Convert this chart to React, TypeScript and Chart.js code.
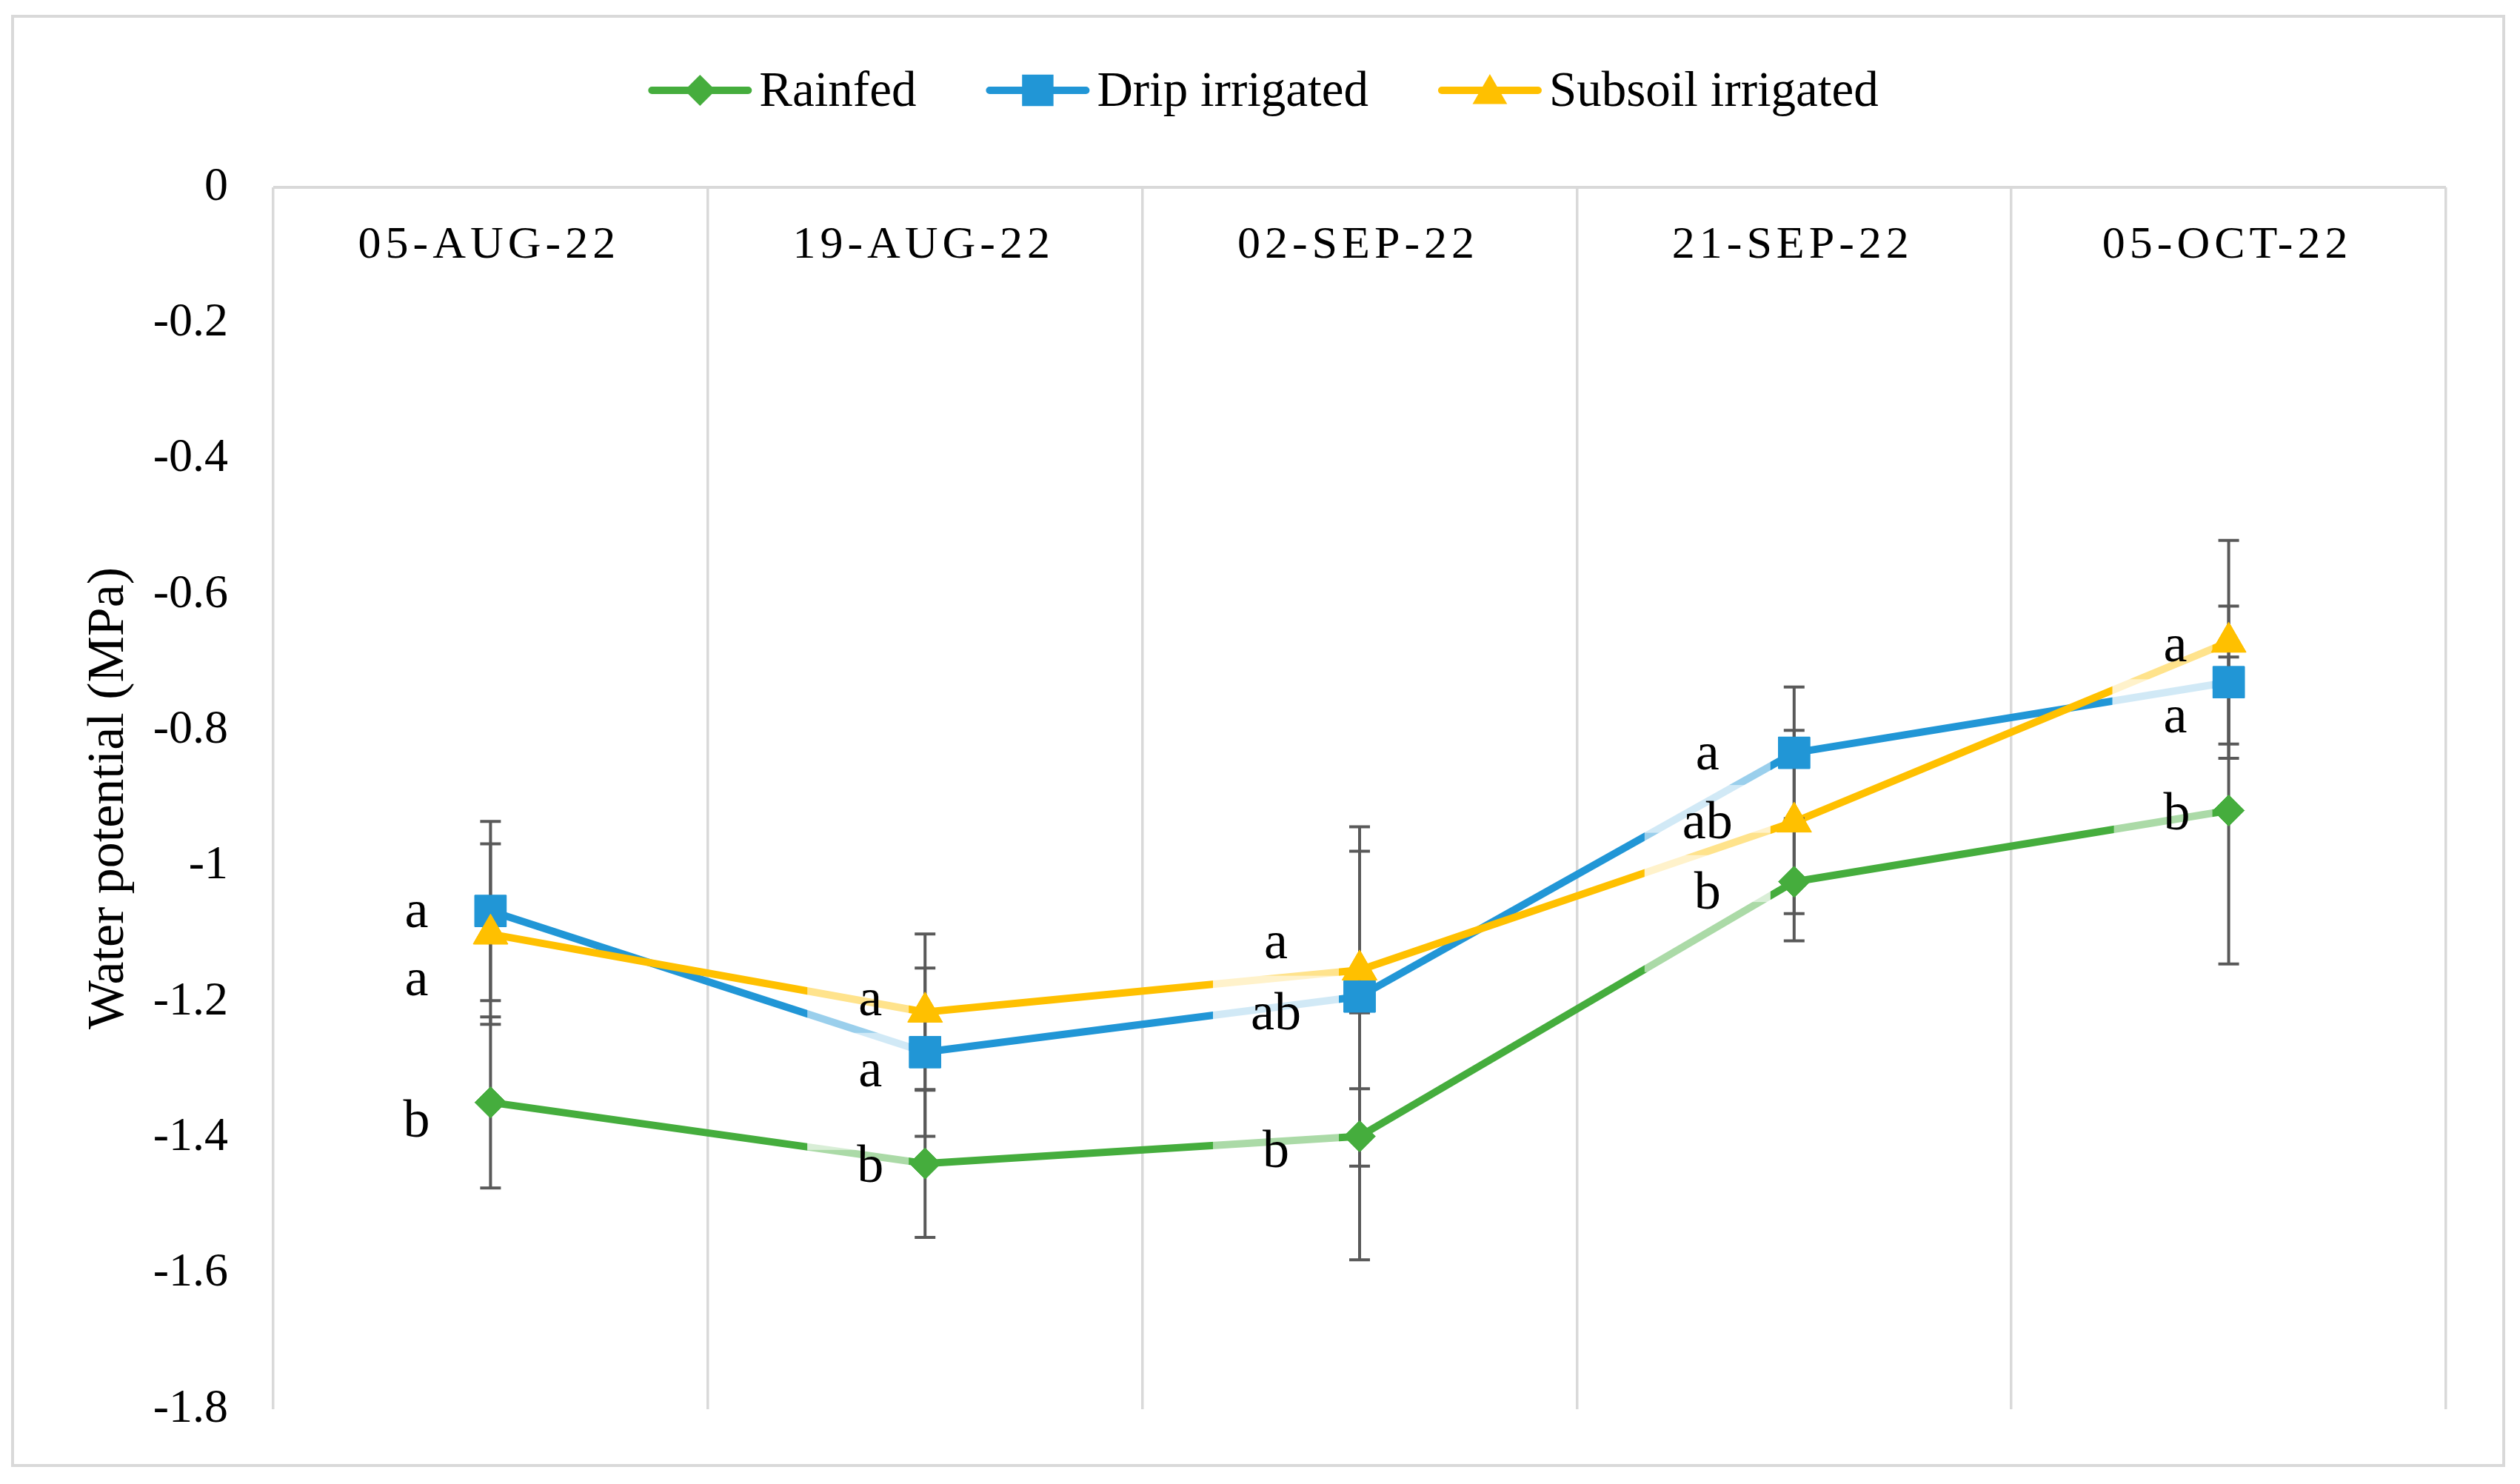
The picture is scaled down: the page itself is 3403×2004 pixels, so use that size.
import React, { useEffect, useRef } from 'react';
import { Chart, registerables } from 'chart.js';

Chart.register(...registerables);

// ---------- data ----------
const CATEGORIES = ['05-AUG-22', '19-AUG-22', '02-SEP-22', '21-SEP-22', '05-OCT-22'];
const SERIES_NAMES = ['Rainfed', 'Drip irrigated', 'Subsoil irrigated'];
const RAINFED = [-1.348, -1.438, -1.398, -1.023, -0.918];
const DRIP = [-1.066, -1.274, -1.192, -0.833, -0.729];
const SUBSOIL = [-1.1, -1.215, -1.153, -0.935, -0.67];
const RAINFED_ERR = [0.126, 0.109, 0.182, 0.087, 0.226];
const DRIP_ERR = [0.132, 0.124, 0.25, 0.097, 0.112];
const SUBSOIL_ERR = [0.133, 0.115, 0.175, 0.135, 0.15];
const RAINFED_LETTERS = ['b', 'b', 'b', 'b', 'b'];
const DRIP_LETTERS = ['a', 'a', 'ab', 'a', 'a'];
const SUBSOIL_LETTERS = ['a', 'a', 'a', 'ab', 'a'];
const Y_MIN = -1.8;
const Y_MAX = 0;
const Y_STEP = 0.2;
const Y_TITLE = 'Water potential (MPa)';

// ---------- styles / layout ----------
const W = 3403;
const H = 2004;
const SERIF = '"Liberation Serif", "Times New Roman", serif';
const GREEN = '#45AD3D';
const BLUE = '#2196D6';
const YELLOW = '#FFC000';
const COLORS = [GREEN, BLUE, YELLOW];
const POINT_STYLES = ['rectRot', 'rect', 'triangle'];
const POINT_RADII = [21, 30, 27];
const GRID = '#d9d9d9';
const ERR_COLOR = '#595959';
// letter label offsets (dx to text centre, dy to baseline) in px relative to the point
const LETTER_OFFSETS = [
  [[-100, 46], [-74, 25], [-113, 41], [-117, 36], [-70, 25]],
  [[-100, 22], [-74, 46], [-113, 44], [-117, 22], [-72, 68]],
  [[-100, 83], [-74, 4], [-113, -16], [-117, 22], [-72, 26]],
];

const VALUES = [RAINFED, DRIP, SUBSOIL];
const ERRORS = [RAINFED_ERR, DRIP_ERR, SUBSOIL_ERR];
const LETTERS = [RAINFED_LETTERS, DRIP_LETTERS, SUBSOIL_LETTERS];

function drawMarker(ctx: CanvasRenderingContext2D, style: string, x: number, y: number, r: number, color: string) {
  ctx.save();
  ctx.fillStyle = color;
  ctx.beginPath();
  if (style === 'rectRot') {
    ctx.moveTo(x, y - r);
    ctx.lineTo(x + r, y);
    ctx.lineTo(x, y + r);
    ctx.lineTo(x - r, y);
    ctx.closePath();
  } else if (style === 'rect') {
    const s = r * Math.SQRT1_2;
    ctx.rect(x - s, y - s, 2 * s, 2 * s);
  } else {
    ctx.moveTo(x, y - r);
    ctx.lineTo(x + r * Math.sin((2 * Math.PI) / 3), y + r / 2);
    ctx.lineTo(x - r * Math.sin((2 * Math.PI) / 3), y + r / 2);
    ctx.closePath();
  }
  ctx.fill();
  ctx.restore();
}

const customPlugin = {
  id: 'customDecor',
  beforeDraw(chart: any) {
    const ctx = chart.ctx as CanvasRenderingContext2D;
    ctx.save();
    ctx.fillStyle = '#ffffff';
    ctx.fillRect(0, 0, chart.width, chart.height);
    ctx.strokeStyle = GRID;
    ctx.lineWidth = 4;
    ctx.strokeRect(17, 22, 3364, 1957);
    ctx.restore();
  },
  afterDatasetsDraw(chart: any) {
    const ctx = chart.ctx as CanvasRenderingContext2D;
    const xs = chart.scales.x;
    const ys = chart.scales.y;
    // error bars
    ctx.save();
    ctx.strokeStyle = ERR_COLOR;
    ctx.lineWidth = 4;
    VALUES.forEach((vals, s) => {
      vals.forEach((v, i) => {
        const x = xs.getPixelForValue(i);
        const y1 = ys.getPixelForValue(v + ERRORS[s][i]);
        const y2 = ys.getPixelForValue(v - ERRORS[s][i]);
        ctx.beginPath();
        ctx.moveTo(x, y1);
        ctx.lineTo(x, y2);
        ctx.moveTo(x - 14, y1);
        ctx.lineTo(x + 14, y1);
        ctx.moveTo(x - 14, y2);
        ctx.lineTo(x + 14, y2);
        ctx.stroke();
      });
    });
    ctx.restore();
    // semi-transparent label boxes
    ctx.save();
    ctx.fillStyle = 'rgba(255,255,255,0.55)';
    VALUES.forEach((vals, s) => {
      vals.forEach((v, i) => {
        const px = xs.getPixelForValue(i);
        const py = ys.getPixelForValue(v);
        const [dx, dy] = LETTER_OFFSETS[s][i];
        const cx = px + dx;
        const base = py + dy;
        const left = cx - 85;
        const right = Math.min(cx + 85, px - 22);
        ctx.fillRect(left, base - 72, right - left, 158);
      });
    });
    ctx.restore();
    // redraw markers on top
    [0, 1, 2].forEach((d) => {
      const meta = chart.getDatasetMeta(d);
      meta.data.forEach((el: any) => el.draw(ctx, chart.chartArea));
    });
    // letters
    ctx.save();
    ctx.fillStyle = '#000';
    ctx.font = `72px ${SERIF}`;
    ctx.textAlign = 'center';
    ctx.textBaseline = 'alphabetic';
    VALUES.forEach((vals, s) => {
      vals.forEach((v, i) => {
        const px = xs.getPixelForValue(i);
        const py = ys.getPixelForValue(v);
        const [dx, dy] = LETTER_OFFSETS[s][i];
        ctx.fillText(LETTERS[s][i], px + dx, py + dy);
      });
    });
    ctx.restore();
  },
  afterDraw(chart: any) {
    const ctx = chart.ctx as CanvasRenderingContext2D;
    const xs = chart.scales.x;
    // category labels inside the plot, near the top
    ctx.save();
    ctx.fillStyle = '#000';
    ctx.font = `62px ${SERIF}`;
    (ctx as any).letterSpacing = '6px';
    ctx.textAlign = 'center';
    ctx.textBaseline = 'alphabetic';
    CATEGORIES.forEach((c, i) => {
      ctx.fillText(c, xs.getPixelForValue(i) - 2, chart.chartArea.top + 95);
    });
    (ctx as any).letterSpacing = '0px';
    ctx.restore();
    // legend
    ctx.save();
    ctx.font = `67px ${SERIF}`;
    const widths = SERIES_NAMES.map((n) => ctx.measureText(n).width);
    const lineLen = 140;
    const textGap = 10;
    const itemGap = 94;
    const total = widths.reduce((a, w) => a + lineLen + textGap + w, 0) + itemGap * (SERIES_NAMES.length - 1);
    let sx = 1706 - total / 2;
    const ly = 122;
    SERIES_NAMES.forEach((n, k) => {
      ctx.strokeStyle = COLORS[k];
      ctx.lineWidth = 10;
      ctx.lineCap = 'round';
      ctx.beginPath();
      ctx.moveTo(sx + 5, ly);
      ctx.lineTo(sx + lineLen - 5, ly);
      ctx.stroke();
      drawMarker(ctx, POINT_STYLES[k], sx + lineLen / 2, k === 2 ? ly + 5 : ly, POINT_RADII[k], COLORS[k]);
      ctx.fillStyle = '#000';
      ctx.textAlign = 'left';
      ctx.textBaseline = 'alphabetic';
      ctx.fillText(n, sx + lineLen + textGap, ly + 21);
      sx += lineLen + textGap + widths[k] + itemGap;
    });
    ctx.restore();
  },
};

export default function App() {
  const ref = useRef<HTMLCanvasElement | null>(null);
  useEffect(() => {
    const canvas = ref.current;
    if (!canvas) return;
    const datasets = VALUES.map((vals, s) => ({
      label: SERIES_NAMES[s],
      data: vals,
      borderColor: COLORS[s],
      backgroundColor: COLORS[s],
      pointBackgroundColor: COLORS[s],
      pointBorderColor: COLORS[s],
      pointBorderWidth: 1,
      borderWidth: 10,
      borderJoinStyle: 'round' as const,
      borderCapStyle: 'round' as const,
      pointStyle: POINT_STYLES[s],
      pointRadius: POINT_RADII[s],
      pointHoverRadius: POINT_RADII[s],
      tension: 0,
      fill: false,
      order: 2 - s,
    }));
    const chart = new Chart(canvas, {
      type: 'line',
      data: { labels: CATEGORIES, datasets: datasets as any },
      options: {
        responsive: false,
        maintainAspectRatio: false,
        animation: false,
        devicePixelRatio: 1,
        layout: { padding: { left: 0, right: 100, top: 253, bottom: 101 } },
        plugins: {
          legend: { display: false },
          tooltip: { enabled: false },
        },
        scales: {
          x: {
            type: 'category',
            offset: true,
            grid: { offset: true, color: GRID, lineWidth: 3.5, drawTicks: false },
            border: { display: false },
            ticks: { display: false },
            afterFit: (s: any) => {
              s.height = 0;
            },
          },
          y: {
            min: Y_MIN,
            max: Y_MAX,
            ticks: {
              stepSize: Y_STEP,
              padding: 61,
              color: '#000',
              font: { family: SERIF, size: 64 },
              callback: (v: any) => String(Math.round(Number(v) * 10) / 10),
            },
            grid: {
              drawTicks: false,
              color: (c: any) => (c.tick && Math.abs(c.tick.value) < 1e-9 ? GRID : 'rgba(0,0,0,0)'),
              lineWidth: 4,
            },
            border: { display: false },
            title: {
              display: true,
              text: Y_TITLE,
              color: '#000',
              font: { family: SERIF, size: 70 },
              padding: { top: 106, bottom: 0 },
            },
            afterFit: (s: any) => {
              s.width = 369;
            },
          },
        },
      },
      plugins: [customPlugin],
    });
    return () => chart.destroy();
  }, []);
  return (
    <div style={{ position: 'absolute', left: 0, top: 0, width: W, height: H, background: '#fff' }}>
      <canvas ref={ref} width={W} height={H} style={{ display: 'block', width: W, height: H }} />
    </div>
  );
}
